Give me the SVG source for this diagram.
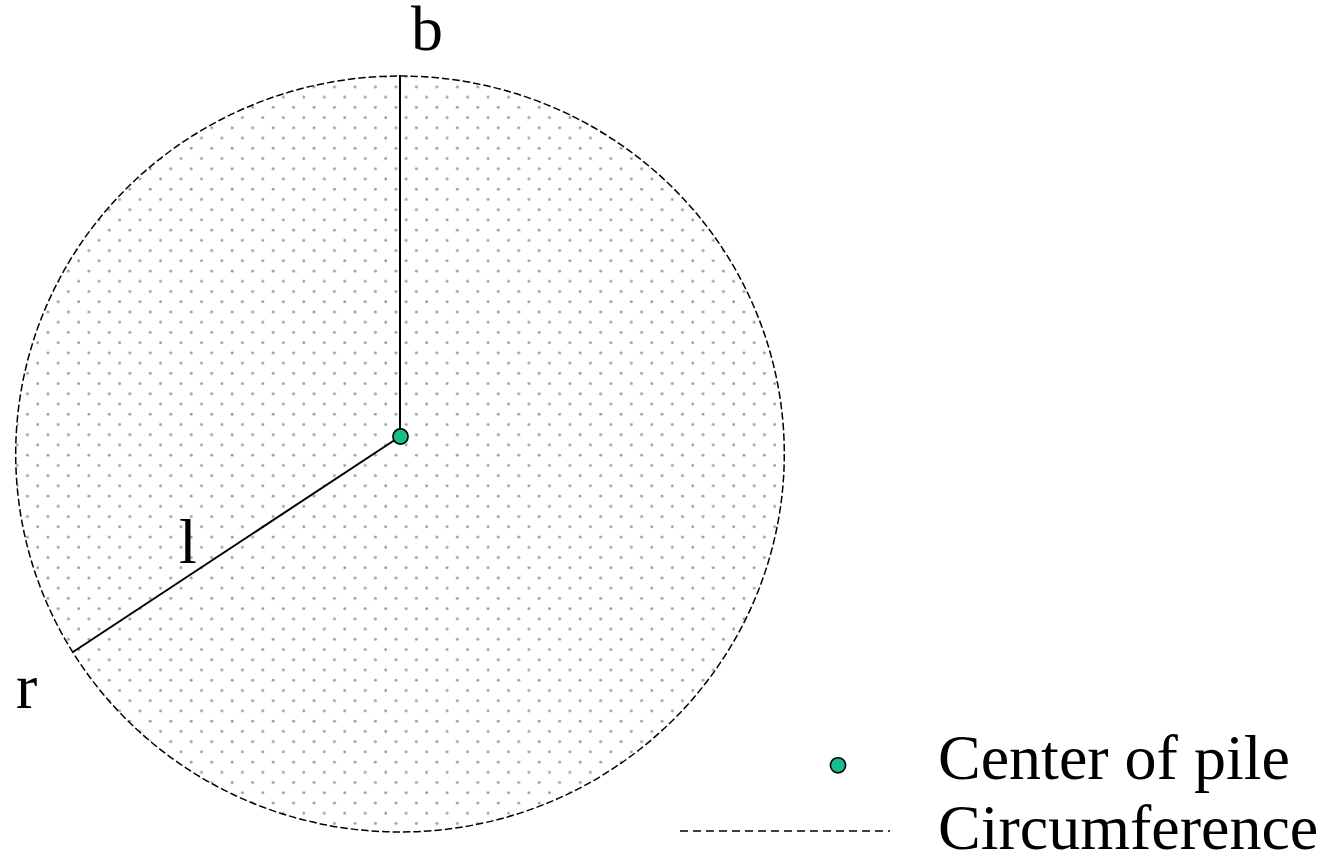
<svg xmlns="http://www.w3.org/2000/svg" width="1327" height="859" viewBox="0 0 1327 859">
  <style>
    .lbl { font-family: "Liberation Serif", "Times New Roman", serif; font-size: 64px; fill: #000; }
    .edge { stroke: #000; stroke-width: 2; fill: none; }
    .pile { fill: #17be8e; stroke: #000; stroke-width: 1.6; }
  </style>
  <defs>
    <pattern id="dots" patternUnits="userSpaceOnUse" x="0" y="0" width="20.47" height="20.46">
      <circle cx="6.99" cy="5.19" r="1.45" fill="#9d9d9d"/>
      <circle cx="17.23" cy="15.42" r="1.45" fill="#9d9d9d"/>
    </pattern>
  </defs>
  <rect width="1327" height="859" fill="#fff"/>

  <g id="circumference">
    <ellipse cx="400" cy="454" rx="384.3" ry="378" fill="url(#dots)" stroke="#000" stroke-width="1.5" stroke-dasharray="7.5 3"/>
  </g>

  <g id="connectors">
    <line class="edge" x1="400" y1="436.5" x2="400" y2="75"/>
    <line class="edge" x1="400" y1="436.5" x2="73" y2="652"/>
  </g>

  <g id="center">
    <circle class="pile" cx="400.5" cy="436.5" r="7.6"/>
  </g>

  <g id="label-b"><text class="lbl" x="411" y="50">b</text></g>
  <g id="label-r"><text class="lbl" x="16" y="708">r</text></g>
  <g id="label-l"><text class="lbl" x="179" y="563">l</text></g>

  <g id="legend">
    <circle class="pile" cx="838" cy="765.3" r="7.6"/>
    <text class="lbl" x="938" y="779">Center of pile</text>
    <line x1="680" y1="831" x2="890" y2="831" stroke="#000" stroke-width="1.5" stroke-dasharray="8 5"/>
    <text class="lbl" x="938" y="849">Circumference</text>
  </g>
</svg>
